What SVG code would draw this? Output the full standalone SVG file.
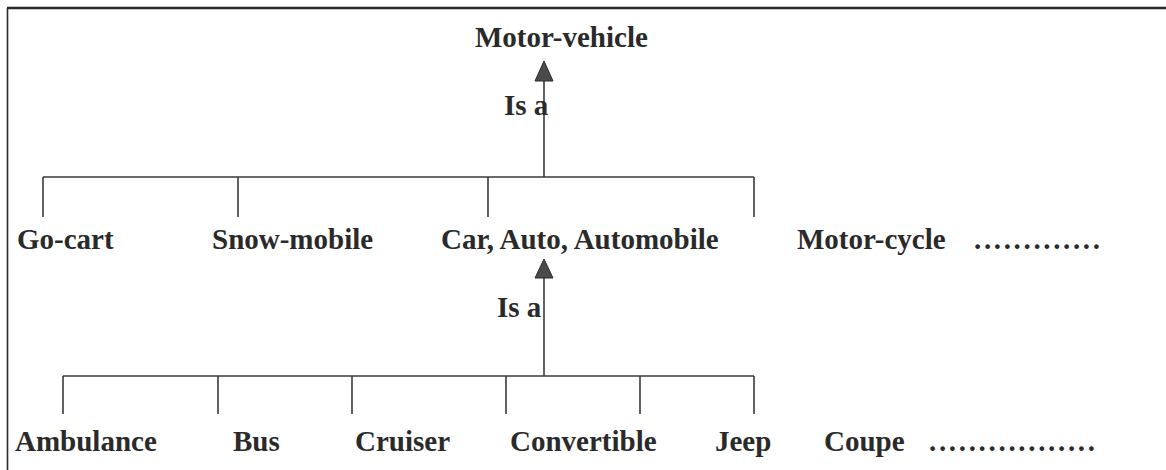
<svg xmlns="http://www.w3.org/2000/svg" width="1166" height="470" viewBox="0 0 1166 470">
<style>
  .lbl { font-family: "Liberation Serif", "Times New Roman", serif; font-weight: bold; font-size: 29px; fill: #2a2a2a; }
  .ln { stroke: #3a3a3a; stroke-width: 1.6; fill: none; }
  .frame { stroke: #2a2a2a; fill: none; }
  .head { fill: #4a4a4a; stroke: #2a2a2a; stroke-width: 1; }
</style>
<rect width="1166" height="470" fill="#ffffff"/>
<g id="frame">
  <line class="frame" x1="7" y1="8" x2="1166" y2="8" stroke-width="2.4"/>
  <line class="frame" x1="7.5" y1="8" x2="7.5" y2="470" stroke-width="1.6"/>
</g>
<g id="connectors">
  <line class="ln" x1="544" y1="177" x2="544" y2="80"/>
  <polygon class="head" points="544,61 535,81 553,81"/>
  <line class="ln" x1="43" y1="177" x2="754" y2="177"/>
  <line class="ln" x1="43" y1="177" x2="43" y2="217"/>
  <line class="ln" x1="238" y1="177" x2="238" y2="217"/>
  <line class="ln" x1="488" y1="177" x2="488" y2="217"/>
  <line class="ln" x1="754" y1="177" x2="754" y2="217"/>
  <line class="ln" x1="544" y1="376" x2="544" y2="277"/>
  <polygon class="head" points="544,259 535,278 553,278"/>
  <line class="ln" x1="63" y1="376" x2="754" y2="376"/>
  <line class="ln" x1="63" y1="376" x2="63" y2="414"/>
  <line class="ln" x1="218" y1="376" x2="218" y2="414"/>
  <line class="ln" x1="352" y1="376" x2="352" y2="414"/>
  <line class="ln" x1="506" y1="376" x2="506" y2="414"/>
  <line class="ln" x1="640" y1="376" x2="640" y2="414"/>
  <line class="ln" x1="754" y1="376" x2="754" y2="414"/>
  <text class="lbl" x="504" y="115">Is a</text>
  <text class="lbl" x="497" y="317">Is a</text>
</g>
<g id="motor-vehicle"><text class="lbl" x="475" y="47">Motor-vehicle</text></g>
<g id="go-cart"><text class="lbl" x="17" y="249">Go-cart</text></g>
<g id="snow-mobile"><text class="lbl" x="212" y="249">Snow-mobile</text></g>
<g id="car"><text class="lbl" x="441" y="249">Car, Auto, Automobile</text></g>
<g id="motor-cycle"><text class="lbl" x="797" y="249">Motor-cycle</text><text class="lbl" x="974" y="249" textLength="126" lengthAdjust="spacing">.............</text></g>
<g id="ambulance"><text class="lbl" x="15" y="451">Ambulance</text></g>
<g id="bus"><text class="lbl" x="233" y="451">Bus</text></g>
<g id="cruiser"><text class="lbl" x="355" y="451">Cruiser</text></g>
<g id="convertible"><text class="lbl" x="510" y="451">Convertible</text></g>
<g id="jeep"><text class="lbl" x="715" y="451">Jeep</text></g>
<g id="coupe"><text class="lbl" x="824" y="451">Coupe</text><text class="lbl" x="929" y="451" textLength="166" lengthAdjust="spacing">.................</text></g>
</svg>
